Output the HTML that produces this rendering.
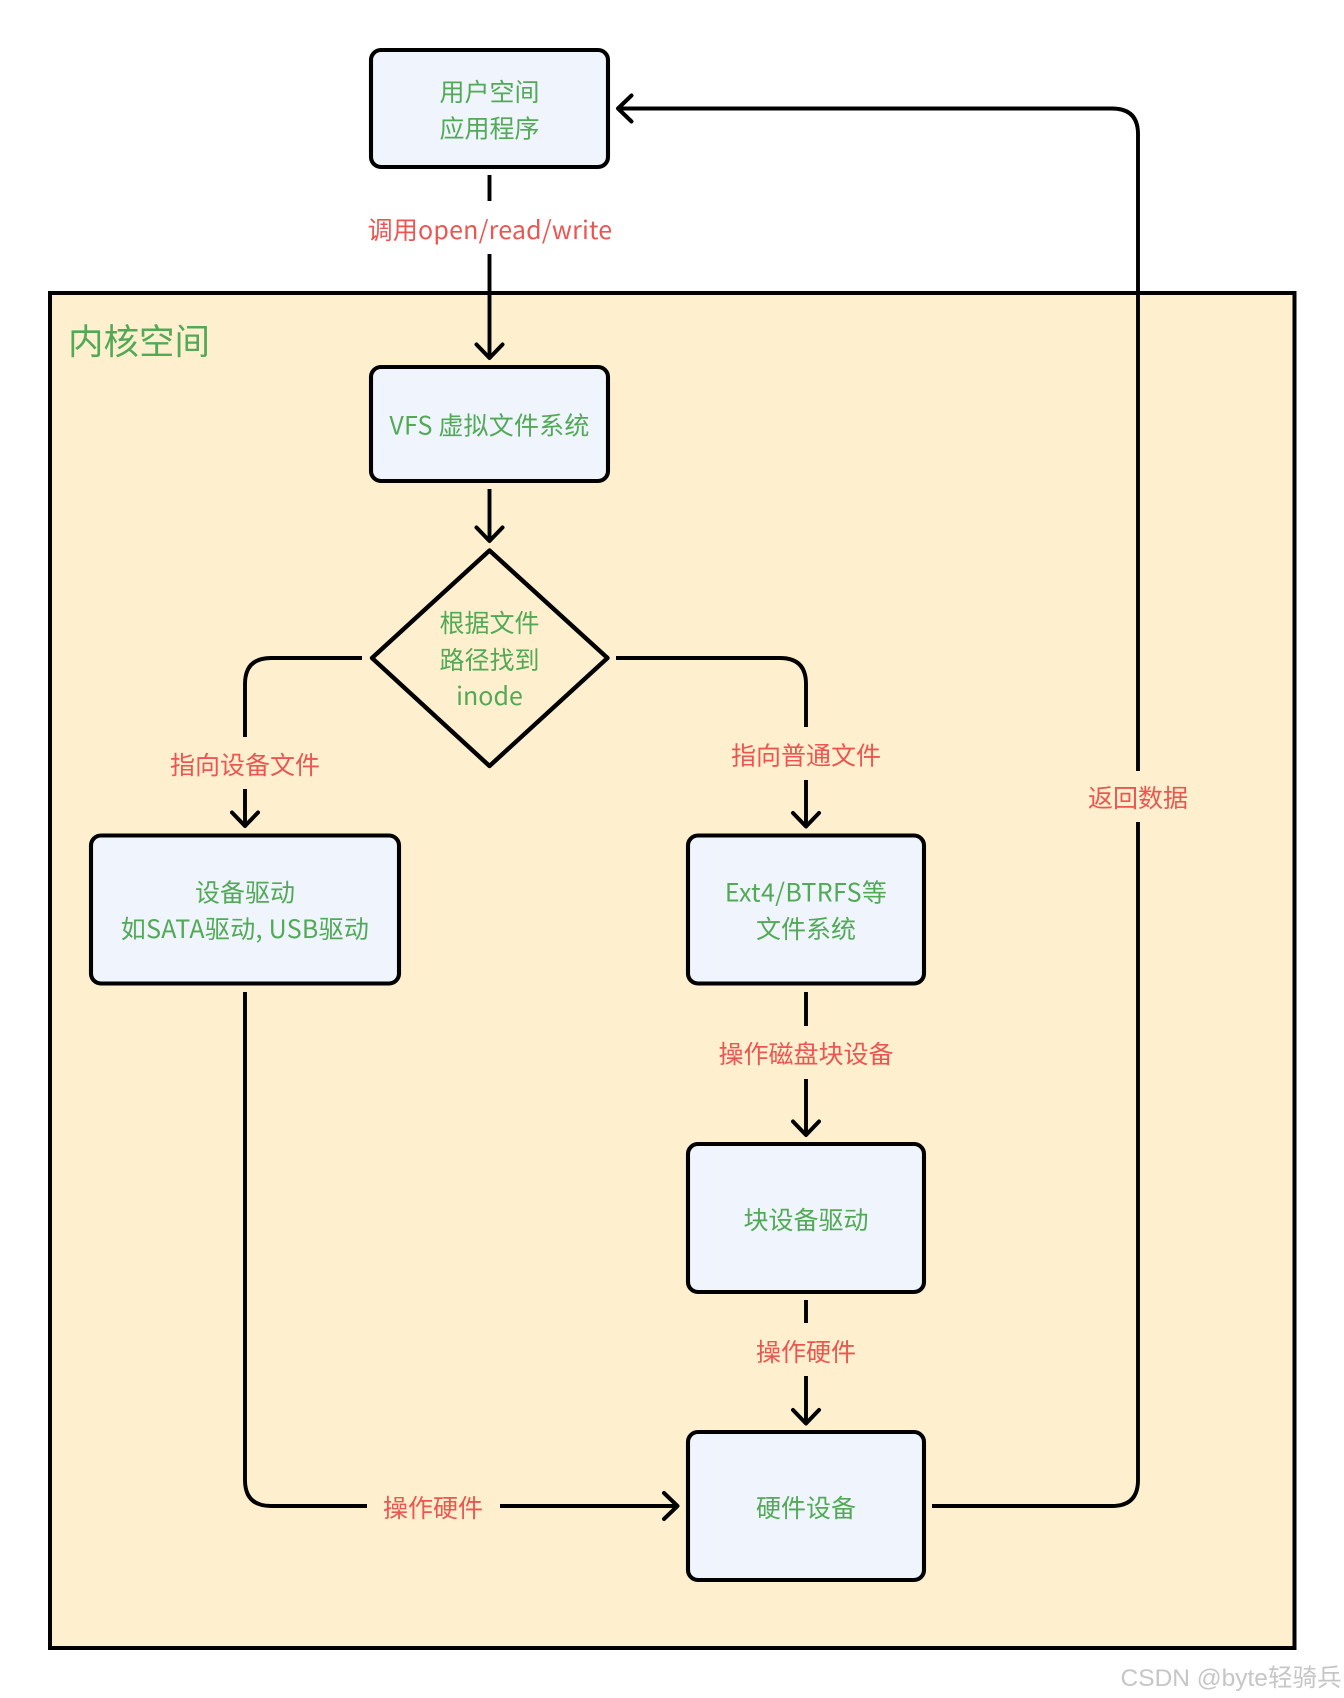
<!DOCTYPE html>
<html>
<head>
<meta charset="utf-8">
<style>
html,body{margin:0;padding:0;background:#fff;width:1344px;height:1698px;overflow:hidden}
svg{display:block}
text{font-family:"Liberation Sans","Noto Sans CJK SC",sans-serif;font-size:25px;text-anchor:middle}
.g,.r,.t{font-family:"Noto Sans CJK SC","Liberation Sans",sans-serif}
.g{fill:#52a956}
.r{fill:#ec5650}
.b{fill:#eff4fd;stroke:#000;stroke-width:4.100}
.l{fill:none;stroke:#000;stroke-width:3.900}
.a{fill:none;stroke:#000;stroke-width:4;stroke-linecap:round;stroke-linejoin:round}
</style>
</head>
<body>
<svg width="1344" height="1698" viewBox="0 0 1344 1698" xmlns="http://www.w3.org/2000/svg">
<rect x="0" y="0" width="1344" height="1698" fill="#fff"/>
<rect x="50" y="293" width="1244.500" height="1355" fill="#fef0cf" stroke="#000" stroke-width="4"/>
<text class="g t" x="139" y="354" style="font-size:35.500px">内核空间</text>

<!-- boxes -->
<rect class="b" x="371" y="50" width="237" height="117" rx="10"/>
<rect class="b" x="371" y="367" width="237" height="114" rx="10"/>
<polygon points="489.500,550.500 607.500,658 489.500,766 372,658" fill="#fef0cf" stroke="#000" stroke-width="4.400" stroke-linejoin="round"/>
<rect class="b" x="91" y="835.500" width="308" height="148" rx="10"/>
<rect class="b" x="688" y="835.500" width="236" height="148" rx="10"/>
<rect class="b" x="688" y="1144" width="236" height="148" rx="10"/>
<rect class="b" x="688" y="1432" width="236" height="148" rx="10"/>

<!-- connectors -->
<path class="l" d="M489.500 175V201M489.500 254V358"/>
<path class="a" d="M476.500 344.500L489.500 358L502.500 344.500"/>
<path class="l" d="M489.500 489V541"/>
<path class="a" d="M476.500 527.500L489.500 541L502.500 527.500"/>
<path class="l" d="M362 658H271Q245 658 245 684V737M245 789V826"/>
<path class="a" d="M232 812.500L245 826L258 812.500"/>
<path class="l" d="M616 658H780Q806 658 806 684V727M806 780V827"/>
<path class="a" d="M793 813L806 826.500L819 813"/>
<path class="l" d="M806 992V1026M806 1079V1135"/>
<path class="a" d="M793 1121.500L806 1135L819 1121.500"/>
<path class="l" d="M806 1300V1323M806 1376V1424"/>
<path class="a" d="M793 1410L806 1423.500L819 1410"/>
<path class="l" d="M245 992V1480Q245 1506 271 1506H367M500 1506H677"/>
<path class="a" d="M664 1493L677.500 1506L664 1519"/>
<path class="l" d="M932 1506H1112Q1138 1506 1138 1480V822M1138 771V134Q1138 108.500 1112 108.500H618"/>
<path class="a" d="M631.500 95.500L618 108.500L631.500 121.500"/>

<!-- node labels -->
<text class="g" x="489.500" y="101">用户空间</text>
<text class="g" x="489.500" y="137.500">应用程序</text>
<text class="g" x="489.500" y="434.500" style="letter-spacing:.2px">VFS 虚拟文件系统</text>
<text class="g" x="489.500" y="632">根据文件</text>
<text class="g" x="489.500" y="669">路径找到</text>
<text class="g" x="489.500" y="705">inode</text>
<text class="g" x="245" y="901.500">设备驱动</text>
<text class="g" x="245" y="938" style="letter-spacing:.3px">如SATA驱动, USB驱动</text>
<text class="g" x="806" y="901.500" style="letter-spacing:.35px">Ext4/BTRFS等</text>
<text class="g" x="806" y="938">文件系统</text>
<text class="g" x="806" y="1229">块设备驱动</text>
<text class="g" x="806" y="1517">硬件设备</text>

<!-- edge labels -->
<text class="r" x="490" y="239" style="letter-spacing:.2px">调用open/read/write</text>
<text class="r" x="245" y="774">指向设备文件</text>
<text class="r" x="806" y="764.500">指向普通文件</text>
<text class="r" x="806" y="1063">操作磁盘块设备</text>
<text class="r" x="806" y="1361">操作硬件</text>
<text class="r" x="433" y="1517">操作硬件</text>
<text class="r" x="1138" y="807">返回数据</text>

<!-- watermark -->
<text x="1231" y="1686" style="font-size:24.500px;fill:#c6c6c6;font-family:'Liberation Sans','Noto Sans CJK SC',sans-serif">CSDN @byte轻骑兵</text>
</svg>
</body>
</html>
